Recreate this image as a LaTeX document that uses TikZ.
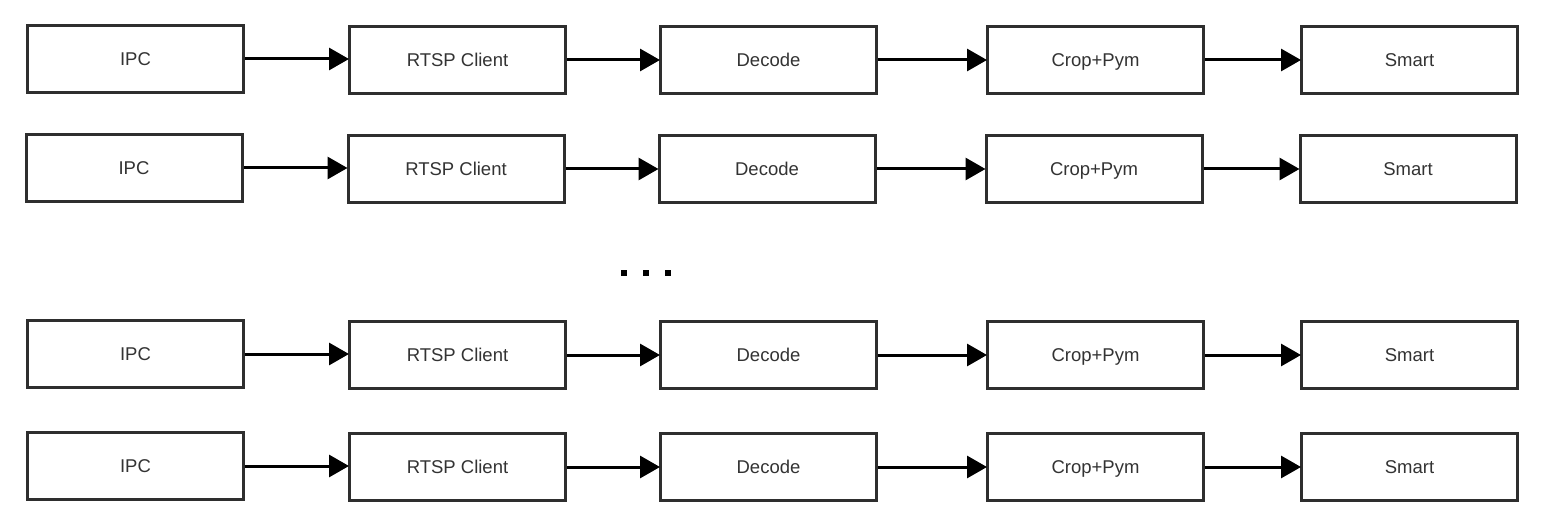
\documentclass[tikz,border=0pt]{standalone}
\usepackage{fontspec}
\setmainfont{Liberation Sans}
\usetikzlibrary{arrows.meta}
\definecolor{boxline}{HTML}{2E2E2E}
\definecolor{boxtext}{HTML}{333333}
\tikzset{
  stagebox/.style={draw=boxline, line width=3pt, fill=white, minimum width=216pt, minimum height=67pt,
    inner sep=0pt, text height=13.3pt, text depth=0pt, text=boxtext, font=\fontsize{18.5}{22}\selectfont},
  flow/.style={line width=3pt, draw=black, -{Triangle[length=20pt,width=22pt]}, shorten >=-1pt}
}
\begin{document}
\begin{tikzpicture}[x=1pt,y=-1pt]
\useasboundingbox (0,0) rectangle (1546,518);
\foreach \r/\yy/\dx in {1/59/0, 2/168/-1.5, 3/354/0, 4/466/0}{
  \node[stagebox] (ipc\r)   at (135.5+\dx,\yy) {IPC};
  \node[stagebox] (rtsp\r)  at (457.5+\dx,\yy+1) {RTSP Client};
  \node[stagebox] (dec\r)   at (768.5+\dx,\yy+1) {Decode};
  \node[stagebox] (crop\r)  at (1095.5+\dx,\yy+1) {Crop+Pym};
  \node[stagebox] (smart\r) at (1409.5+\dx,\yy+1) {Smart};
  \draw[flow] (ipc\r.east) -- (rtsp\r.west |- ipc\r.east);
  \draw[flow] (rtsp\r) -- (dec\r);
  \draw[flow] (dec\r) -- (crop\r);
  \draw[flow] (crop\r) -- (smart\r);
}
\foreach \i/\xx in {1/624,2/646,3/668}{
  \fill[black] (\xx-3,273-3) rectangle (\xx+3,273+3);
}
\end{tikzpicture}
\end{document}
